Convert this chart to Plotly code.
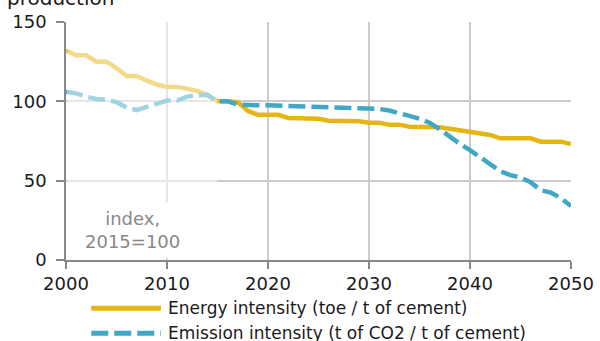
import plotly.graph_objects as go

years = list(range(2000, 2051))
energy = [132, 129, 129, 125, 125, 121, 116, 116, 113, 110.5,
          109, 109, 108, 106.5, 104, 100, 100, 99.5, 94, 91.5,
          91.5, 91.5, 89.5, 89.3, 89.3, 89, 87.8, 87.8, 87.8, 87.5,
          86.5, 86.5, 85.3, 85.3, 84, 84, 84, 83.6, 82.7, 81.7,
          80.8, 79.8, 78.8, 76.7, 76.7, 76.7, 76.7, 74.6, 74.6, 74.6,
          73]
emission = [106, 105, 103, 101.5, 101, 99.5, 96, 94.5, 96.5, 98.5,
            100.5, 100.5, 103, 104, 104, 100, 100, 98, 97.5, 97.5,
            97.5, 97.3, 97, 97, 96.8, 96.7, 96.7, 96.7, 96.3, 95.8,
            95.6, 95.2, 94.2, 92.8, 90.8, 89, 86.5, 82.5, 77.5, 73.2,
            69.2, 65, 61, 56, 53.5, 52, 49, 44, 42.5, 39,
            34]
series_names = ["Energy intensity (toe / t of cement)",
                "Emission intensity (t of CO2 / t of cement)"]
x_ticks = [2000, 2010, 2020, 2030, 2040, 2050]
y_ticks = [0, 50, 100, 150]
hist_end = 2015

GOLD = "#E5B512"
BLUE = "#40A8C4"
FONT = "DejaVu Sans"
DASH = "17px,6px"

fig = go.Figure()
fig.add_trace(go.Scatter(x=years, y=energy, mode="lines", name=series_names[0],
                         line=dict(color=GOLD, width=4.5), showlegend=False))
fig.add_trace(go.Scatter(x=years, y=emission, mode="lines", name=series_names[1],
                         line=dict(color=BLUE, width=4.5, dash=DASH),
                         showlegend=False))

# historical fade overlay
fig.add_shape(type="rect", xref="x", yref="y", x0=years[0] + 0.12, x1=hist_end,
              y0=0, y1=150, fillcolor="rgba(255,255,255,0.5)", line_width=0,
              layer="above")

# custom legend
leg_y = [-0.203, -0.308]
styles = [dict(color=GOLD, width=5), dict(color=BLUE, width=5, dash=DASH)]
for name, ly, st in zip(series_names, leg_y, styles):
    fig.add_shape(type="line", xref="paper", yref="paper", x0=0.05, x1=0.188,
                  y0=ly, y1=ly, line=st)
    fig.add_annotation(xref="paper", yref="paper", x=0.199, y=ly, text=name,
                       showarrow=False, xanchor="left", yanchor="middle",
                       font=dict(family=FONT, size=17, color="#1a1a1a"))

fig.add_annotation(xref="x", yref="y", x=2006.55, y=19, text="index,<br>2015=100",
                   showarrow=False, xanchor="center", yanchor="middle",
                   bgcolor="white", borderpad=5,
                   font=dict(family=FONT, size=18, color="#888888"))

fig.add_annotation(xref="paper", yref="paper", x=-0.12, y=1.0, yshift=10,
                   text="production",
                   showarrow=False, xanchor="left", yanchor="bottom",
                   font=dict(family=FONT, size=20, color="#1a1a1a"))

fig.update_layout(
    width=600, height=341,
    margin=dict(l=66, r=29, t=22, b=81),
    paper_bgcolor="white", plot_bgcolor="white",
    font=dict(family=FONT, size=18, color="#1a1a1a"),
)
fig.update_xaxes(range=[2000, 2050], tickvals=x_ticks, showgrid=True,
                 gridcolor="#cccccc", gridwidth=1.5, showline=True,
                 linecolor="#888888", linewidth=1.5, ticks="outside",
                 ticklen=7, tickcolor="#888888", tickwidth=1.5, zeroline=False,
                 automargin=False)
fig.update_yaxes(range=[0, 150], tickvals=y_ticks, showgrid=True,
                 gridcolor="#cccccc", gridwidth=1.5, showline=True,
                 linecolor="#888888", linewidth=1.5, ticks="outside",
                 ticklen=8, tickcolor="#888888", tickwidth=1.5, zeroline=False,
                 ticklabelstandoff=6, automargin=False)

fig.write_html("out.html", config={"displayModeBar": False},
               post_script="document.body.style.margin='0';document.body.style.overflow='hidden';")
